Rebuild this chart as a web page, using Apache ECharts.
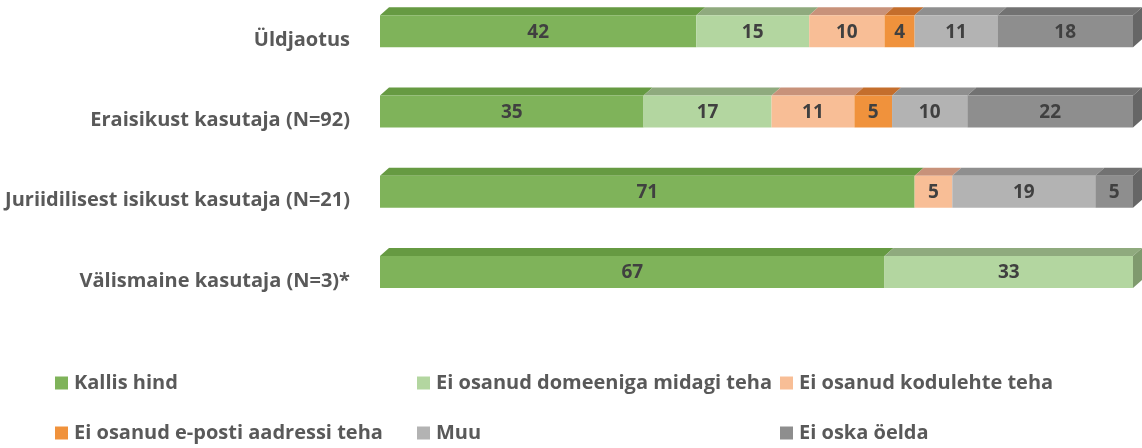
<!DOCTYPE html>
<html>
<head>
<meta charset="utf-8">
<script src="https://cdn.jsdelivr.net/npm/echarts@6/dist/echarts.min.js"></script>
<style>
  html, body { margin: 0; padding: 0; background: #fff; }
  #chart { width: 1142px; height: 448px; }
</style>
</head>
<body>
<div id="chart"></div>
<script>
  const categories = [
    'Üldjaotus',
    'Eraisikust kasutaja (N=92)',
    'Juriidilisest isikust kasutaja (N=21)',
    'Välismaine kasutaja (N=3)*'
  ];
  const seriesNames = [
    'Kallis hind',
    'Ei osanud domeeniga midagi teha',
    'Ei osanud kodulehte teha',
    'Ei osanud e-posti aadressi teha',
    'Muu',
    'Ei oska öelda'
  ];
  const kallisHind = [42, 35, 71, 67];
  const domeen = [15, 17, 0, 33];
  const koduleht = [10, 11, 5, 0];
  const eposti = [4, 5, 0, 0];
  const muu = [11, 10, 19, 0];
  const eiOska = [18, 22, 5, 0];
  const values = [kallisHind, domeen, koduleht, eposti, muu, eiOska];

  // front, top, side
  const shades = [
    ['#7fb35a', '#669a42', '#5d8a3d'],
    ['#b3d6a0', '#8faa7e', '#7f9a6e'],
    ['#f8be96', '#c8927a', '#b8826a'],
    ['#f0923c', '#c46e2c', '#b0622a'],
    ['#b3b3b3', '#8f8f8f', '#7f7f7f'],
    ['#8e8e8e', '#727272', '#666666']
  ];

  const DX = 9, DY = 8, HALF = 16, SHIFT = 9;
  const labelFont = '"Open Sans", sans-serif';

  // cumulative starts per row
  const starts = categories.map(() => 0);
  const seriesData = values.map(arr => arr.map((v, i) => {
    const s = starts[i];
    starts[i] += v;
    return [s, s + v, i, v];
  }));

  function makeRender(si) {
    return function(params, api) {
      const v = api.value(3);
      if (!v) return null;
      const p0 = api.coord([api.value(0), api.value(2)]);
      const p1 = api.coord([api.value(1), api.value(2)]);
      const x0 = p0[0], x1 = p1[0];
      const yc = p0[1] - SHIFT;
      const col = shades[si];
      const children = [
        {
          type: 'polygon',
          shape: { points: [[x0, yc - HALF], [x0 + DX, yc - HALF - DY], [x1 + DX, yc - HALF - DY], [x1, yc - HALF]] },
          style: { fill: col[1] }
        },
        {
          type: 'rect',
          shape: { x: x0, y: yc - HALF, width: x1 - x0, height: HALF * 2 },
          style: { fill: col[0] }
        }
      ];
      if (api.value(1) >= 99.9) {
        children.push({
          type: 'polygon',
          shape: { points: [[x1, yc - HALF], [x1 + DX, yc - HALF - DY], [x1 + DX, yc + HALF - DY], [x1, yc + HALF]] },
          style: { fill: col[2] }
        });
      }
      children.push({
        type: 'text',
        style: {
          text: String(v),
          x: (x0 + x1) / 2,
          y: yc + 1,
          align: 'center',
          verticalAlign: 'middle',
          fill: '#404040',
          fontSize: 19,
          fontWeight: 'bold',
          fontFamily: labelFont
        }
      });
      return { type: 'group', children: children };
    };
  }

  // legend grid: [series index, left, top]
  const legendPos = [
    [0, 55, 373], [1, 417, 373], [2, 780, 373],
    [3, 55, 423], [4, 417, 423], [5, 780, 423]
  ];

  const chart = echarts.init(document.getElementById('chart'));
  chart.setOption({
    animation: false,
    grid: { left: 380, right: 9, top: 0, bottom: 127 },
    xAxis: { type: 'value', min: 0, max: 100, show: false },
    yAxis: {
      type: 'category',
      inverse: true,
      data: categories,
      axisLine: { show: false },
      axisTick: { show: false },
      splitLine: { show: false },
      axisLabel: {
        margin: 30,
        color: '#595959',
        fontSize: 20,
        fontWeight: 'bold',
        fontFamily: labelFont
      }
    },
    legend: legendPos.map(p => ({
      left: p[1],
      top: p[2],
      padding: 0,
      itemWidth: 13,
      itemHeight: 13,
      icon: 'rect',
      data: [seriesNames[p[0]]],
      textStyle: {
        color: '#595959',
        fontSize: 20,
        fontWeight: 'bold',
        fontFamily: labelFont,
        lineHeight: 20,
        padding: [0, 0, 0, 1]
      }
    })),
    series: seriesNames.map((name, si) => ({
      type: 'custom',
      name: name,
      clip: false,
      itemStyle: { color: shades[si][0] },
      encode: { x: [0, 1], y: 2 },
      renderItem: makeRender(si),
      data: seriesData[si]
    }))
  });
</script>
</body>
</html>
